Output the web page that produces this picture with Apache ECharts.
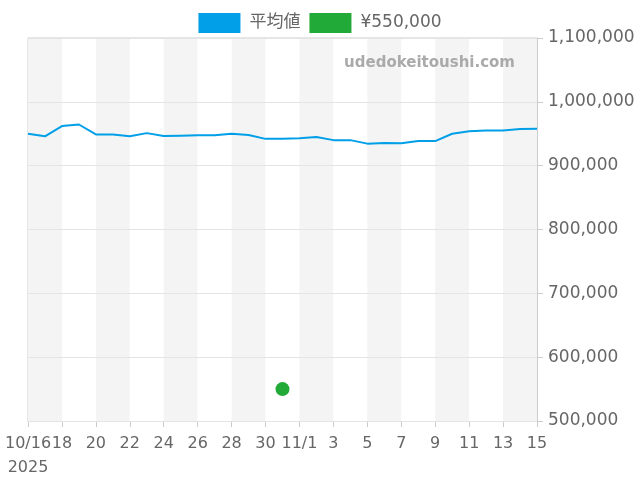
<!DOCTYPE html>
<html>
<head>
<meta charset="utf-8">
<script src="https://cdn.jsdelivr.net/npm/echarts@6/dist/echarts.min.js"></script>
<style>
  html, body { margin: 0; padding: 0; background: #fff; }
  #chart { width: 640px; height: 480px; }
</style>
</head>
<body>
<div id="chart"></div>
<script>
// dates 10/16 .. 11/15 (2025)
const dates = [
  '10/16','10/17','10/18','10/19','10/20','10/21','10/22','10/23','10/24','10/25',
  '10/26','10/27','10/28','10/29','10/30','10/31','11/1','11/2','11/3','11/4',
  '11/5','11/6','11/7','11/8','11/9','11/10','11/11','11/12','11/13','11/14','11/15'
]
const avgValues = [
  950000, 946000, 962000, 964500, 949000, 949000, 946000, 951000, 946500, 947000,
  947500, 947500, 950000, 948000, 942000, 942000, 943000, 945000, 940000, 940000,
  934500, 935500, 935000, 938500, 938500, 950000, 954000, 955000, 955000, 957500, 958000
]
const pointDate = '10/31'
const pointValue = 550000
const legendNames = ['平均値', '¥550,000']

const FONT = '"DejaVu Sans", "Noto Sans CJK JP", sans-serif'
const labelColor = '#666'

const xLabel = (v, i) => {
  if (i === 0) return v + '\n2025'
  const [m, d] = v.split('/')
  return d === '1' ? v : d
}

const chart = echarts.init(document.getElementById('chart'))
chart.setOption({
  animation: false,
  backgroundColor: '#fff',
  textStyle: { fontFamily: FONT },
  legend: {
    top: 8, left: 'center', itemWidth: 42, itemHeight: 20, itemGap: 9,
    textStyle: { color: labelColor, fontSize: 17, fontFamily: FONT, padding: [0, 0, 0, 4] },
    data: [
      { name: legendNames[0], icon: 'rect' },
      { name: legendNames[1], icon: 'rect' },
    ],
  },
  grid: { left: 28, right: 103, top: 38, bottom: 58, show: true, borderColor: '#ccc', borderWidth: 1 },
  xAxis: {
    type: 'category', data: dates, boundaryGap: false, z: 0,
    axisLine: { lineStyle: { color: '#ccc' } },
    axisTick: { interval: 1, length: 6, lineStyle: { color: '#ccc' } },
    axisLabel: {
      interval: 1, color: labelColor, fontSize: 16, margin: 11, lineHeight: 24,
      showMinLabel: true, showMaxLabel: true, formatter: xLabel,
    },
    splitLine: { show: false },
    splitArea: { show: true, interval: 1, areaStyle: { color: ['#f4f4f4', '#ffffff'] } },
  },
  yAxis: {
    type: 'value', position: 'right', min: 500000, max: 1100000, interval: 100000, z: 1,
    axisLine: { show: true, lineStyle: { color: '#ccc' } },
    axisTick: { show: true, length: 6, lineStyle: { color: '#ccc' } },
    axisLabel: {
      color: labelColor, fontSize: 17, margin: 11, padding: [3, 0, 0, 0],
      formatter: v => v.toLocaleString('en-US'),
    },
    splitLine: { lineStyle: { color: '#e4e4e4' } },
  },
  graphic: [{
    type: 'text', right: 125, top: 56, z: 100,
    style: { text: 'udedokeitoushi.com', fill: '#aaa', font: 'bold 15px ' + FONT },
  }],
  series: [
    {
      name: legendNames[0], type: 'line', data: avgValues, z: 3,
      showSymbol: false, symbol: 'none',
      lineStyle: { color: '#009fe8', width: 2 }, itemStyle: { color: '#009fe8' },
    },
    {
      name: legendNames[1], type: 'scatter', data: [[pointDate, pointValue]], z: 3,
      symbolSize: 14, itemStyle: { color: '#22aa38', opacity: 1 },
    },
  ],
})
</script>
</body>
</html>
